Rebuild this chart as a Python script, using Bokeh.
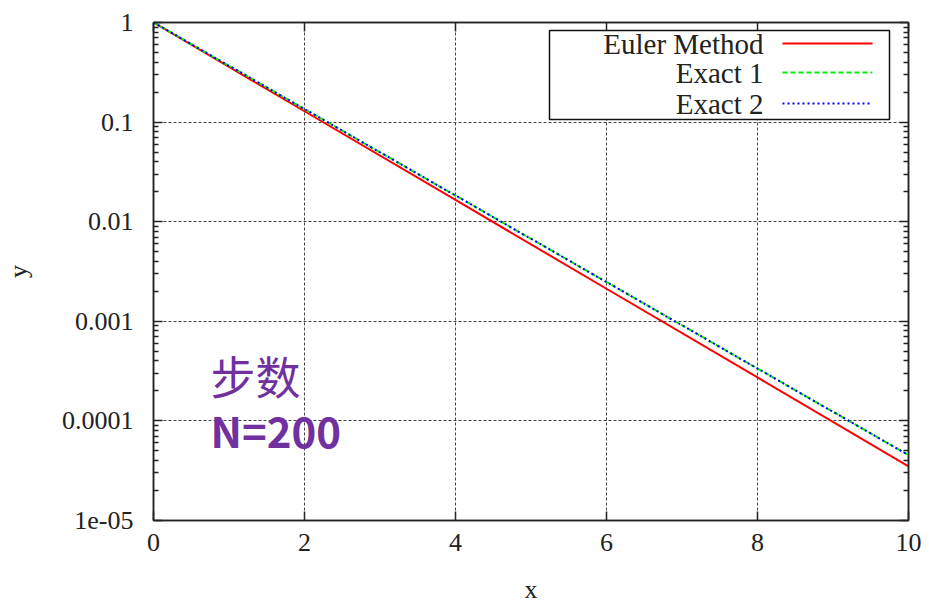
from bokeh.plotting import figure
from bokeh.models import (Range1d, FixedTicker, LinearAxis, LogAxis, Label,
                          BoxAnnotation, Arrow, CustomJSTickFormatter)
from bokeh.embed import file_html
from bokeh.resources import INLINE

# Solution of y' = -y, y(0) = 1 on [0, 10], Euler method with N = 200 steps
x_points = [0, 2, 4, 6, 8, 10]
euler_y = [1.0, 0.1285, 0.01652, 0.002122, 0.000273, 3.5e-5]
exact1_y = [1.0, 0.1353, 0.01832, 0.002479, 0.0003355, 4.54e-5]
exact2_y = [1.0, 0.1353, 0.01832, 0.002479, 0.0003355, 4.54e-5]

series_names = ["Euler Method", "Exact 1", "Exact 2"]
x_ticks = [0, 2, 4, 6, 8, 10]
y_ticks = [1e-5, 1e-4, 1e-3, 1e-2, 1e-1, 1.0]
y_tick_labels = ["1e-05", "0.0001", "0.001", "0.01", "0.1", "1"]
y_minor = [k * 10.0 ** e for e in range(-5, 0) for k in range(2, 10)]

annot_line1 = "步数"
annot_line2 = "N=200"

SERIF = "Liberation Serif"
AXIS_COLOR = "#222222"
PURPLE = "#7030A0"

p = figure(width=929, height=606, y_axis_type="log",
           x_range=Range1d(0, 10), y_range=Range1d(1e-5, 1),
           output_backend="svg", toolbar_location=None,
           min_border_left=153, min_border_right=21,
           min_border_top=22, min_border_bottom=85)
p.background_fill_color = "white"
p.border_fill_color = "white"
p.outline_line_color = AXIS_COLOR
p.outline_line_width = 1.5

# Curves
p.line(x_points, euler_y, line_color="#FF0000", line_width=2)
p.line(x_points, exact1_y, line_color="#00EE00", line_width=2, line_dash="5 3")
p.line(x_points, exact2_y, line_color="#0000FF", line_width=2, line_dash="2 3")

# Grid
p.xgrid.ticker = FixedTicker(ticks=x_ticks)
p.ygrid.ticker = FixedTicker(ticks=y_ticks)
for g in (p.xgrid, p.ygrid):
    g.grid_line_color = "#444444"
    g.grid_line_dash = "3 2"
    g.grid_line_width = 1

def style_axis(ax):
    ax.axis_line_color = AXIS_COLOR
    ax.axis_line_width = 1.5
    ax.major_tick_line_color = AXIS_COLOR
    ax.major_tick_line_width = 1.5
    ax.minor_tick_line_color = AXIS_COLOR
    ax.minor_tick_line_width = 1.5
    ax.major_tick_in = 9
    ax.major_tick_out = 0
    ax.minor_tick_in = 5
    ax.minor_tick_out = 0
    ax.major_label_text_font = SERIF
    ax.major_label_text_font_size = "26px"
    ax.major_label_text_color = AXIS_COLOR
    ax.axis_label_text_font = SERIF
    ax.axis_label_text_font_size = "26px"
    ax.axis_label_text_font_style = "normal"
    ax.axis_label_text_color = AXIS_COLOR

# Bottom axis
xa = p.xaxis[0]
style_axis(xa)
xa.ticker = FixedTicker(ticks=x_ticks)
xa.minor_tick_line_color = None
xa.major_label_standoff = 13
xa.axis_label = "x"
xa.axis_label_standoff = 21

# Left axis
ya = p.yaxis[0]
style_axis(ya)
ya.ticker = FixedTicker(ticks=y_ticks, minor_ticks=y_minor)
ya.major_label_overrides = {v: s for v, s in zip(y_ticks, y_tick_labels)}
ya.major_label_standoff = 20
ya.axis_label = "y"
ya.axis_label_standoff = 26

# Mirrored ticks on top and right (no labels)
blank = CustomJSTickFormatter(code="return ''")
top = LinearAxis(ticker=FixedTicker(ticks=x_ticks), formatter=blank)
style_axis(top)
top.minor_tick_line_color = None
top.major_label_text_font_size = "1px"
top.major_label_standoff = 0
p.add_layout(top, "above")

right = LogAxis(ticker=FixedTicker(ticks=y_ticks, minor_ticks=y_minor),
                formatter=blank)
style_axis(right)
right.major_label_text_font_size = "1px"
right.major_label_standoff = 0
p.add_layout(right, "right")

# Legend: labels right-aligned, line samples to their right
p.add_layout(BoxAnnotation(left=396, right=736, top=490, bottom=401,
                           left_units="screen", right_units="screen",
                           top_units="screen", bottom_units="screen",
                           fill_color="white", fill_alpha=1.0,
                           line_color="#111111", line_alpha=1.0,
                           line_width=1.5))
legend_styles = [("#FF0000", "solid"), ("#00EE00", "5 3"), ("#0000FF", "2 3")]
row_y = [477, 448, 417]
for name, (col, dash), ry in zip(series_names, legend_styles, row_y):
    p.add_layout(Label(x=610, y=ry, x_units="screen", y_units="screen",
                       text=name, text_align="right", text_baseline="middle",
                       text_font=SERIF, text_font_size="29px",
                       text_color=AXIS_COLOR))
    p.add_layout(Arrow(x_start=629, y_start=ry, x_end=719, y_end=ry,
                       start_units="screen", end_units="screen",
                       start=None, end=None,
                       line_color=col, line_width=2, line_dash=dash))

# Step-count annotation
p.add_layout(Label(x=57, y=145, x_units="screen", y_units="screen",
                   text=annot_line1, text_baseline="middle",
                   text_font="Noto Sans CJK SC", text_font_size="45px",
                   text_color=PURPLE))
p.add_layout(Label(x=57, y=91, x_units="screen", y_units="screen",
                   text=annot_line2, text_baseline="alphabetic",
                   text_font="Noto Sans CJK SC", text_font_size="42px",
                   text_font_style="bold", text_color=PURPLE))

open("out.html", "w").write(file_html(p, INLINE))
